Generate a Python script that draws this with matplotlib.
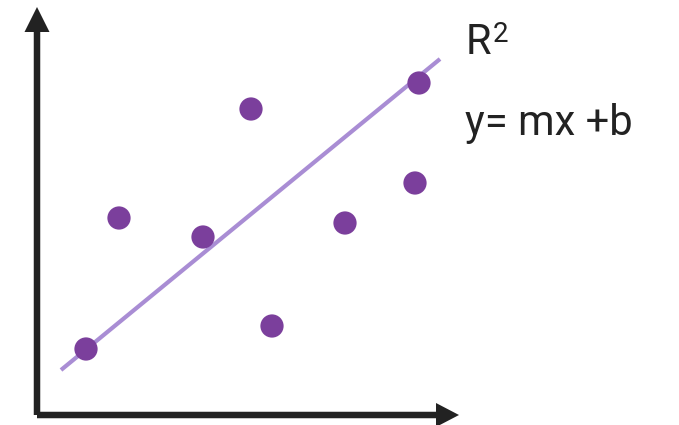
import matplotlib
matplotlib.use('Agg')
import matplotlib.pyplot as plt
import numpy as np

# scatter points (arbitrary units, origin at the axes corner)
x_pts = [4.6, 7.9, 16.3, 21.1, 23.2, 30.5, 37.5, 37.9]
y_pts = [6.3, 19.4, 17.5, 30.3, 8.6, 18.9, 22.9, 32.9]

# fitted line end points
fit_x = [2.1, 40.0]
fit_y = [4.2, 35.3]

label_r = 'R'
label_sup = '2'
label_eq = 'y= mx +b'

dot_color = '#7b3f9c'
line_color = '#a98dd4'
ink = '#222222'

plt.rcParams['font.family'] = ['Roboto', 'DejaVu Sans']

fig = plt.figure(figsize=(6.79, 4.25), dpi=100)
ax = fig.add_axes([0, 0, 1, 1])
ax.set_xlim(-4.0, 63.9)
ax.set_ylim(-1.3, 41.2)
ax.axis('off')

# axes drawn as arrows
ax.arrow(-0.3, -0.3, 0, 38.3, width=0.65, head_width=2.5, head_length=2.5,
         length_includes_head=False, color=ink, lw=0)
ax.arrow(-0.3, -0.3, 39.9, 0, width=0.65, head_width=2.4, head_length=2.3,
         length_includes_head=False, color=ink, lw=0)

ax.plot(fit_x, fit_y, color=line_color, linewidth=3, solid_capstyle='butt',
        zorder=2)
ax.scatter(x_pts, y_pts, s=280, color=dot_color, edgecolors='none', zorder=3)

ax.text(42.6, 35.8, label_r, fontsize=30, color=ink, va='baseline')
ax.text(45.3, 37.0, label_sup, fontsize=20, color=ink, va='baseline')
ax.text(42.5, 27.7, label_eq, fontsize=30, color=ink, va='baseline')

fig.savefig('out.png', dpi=100)
